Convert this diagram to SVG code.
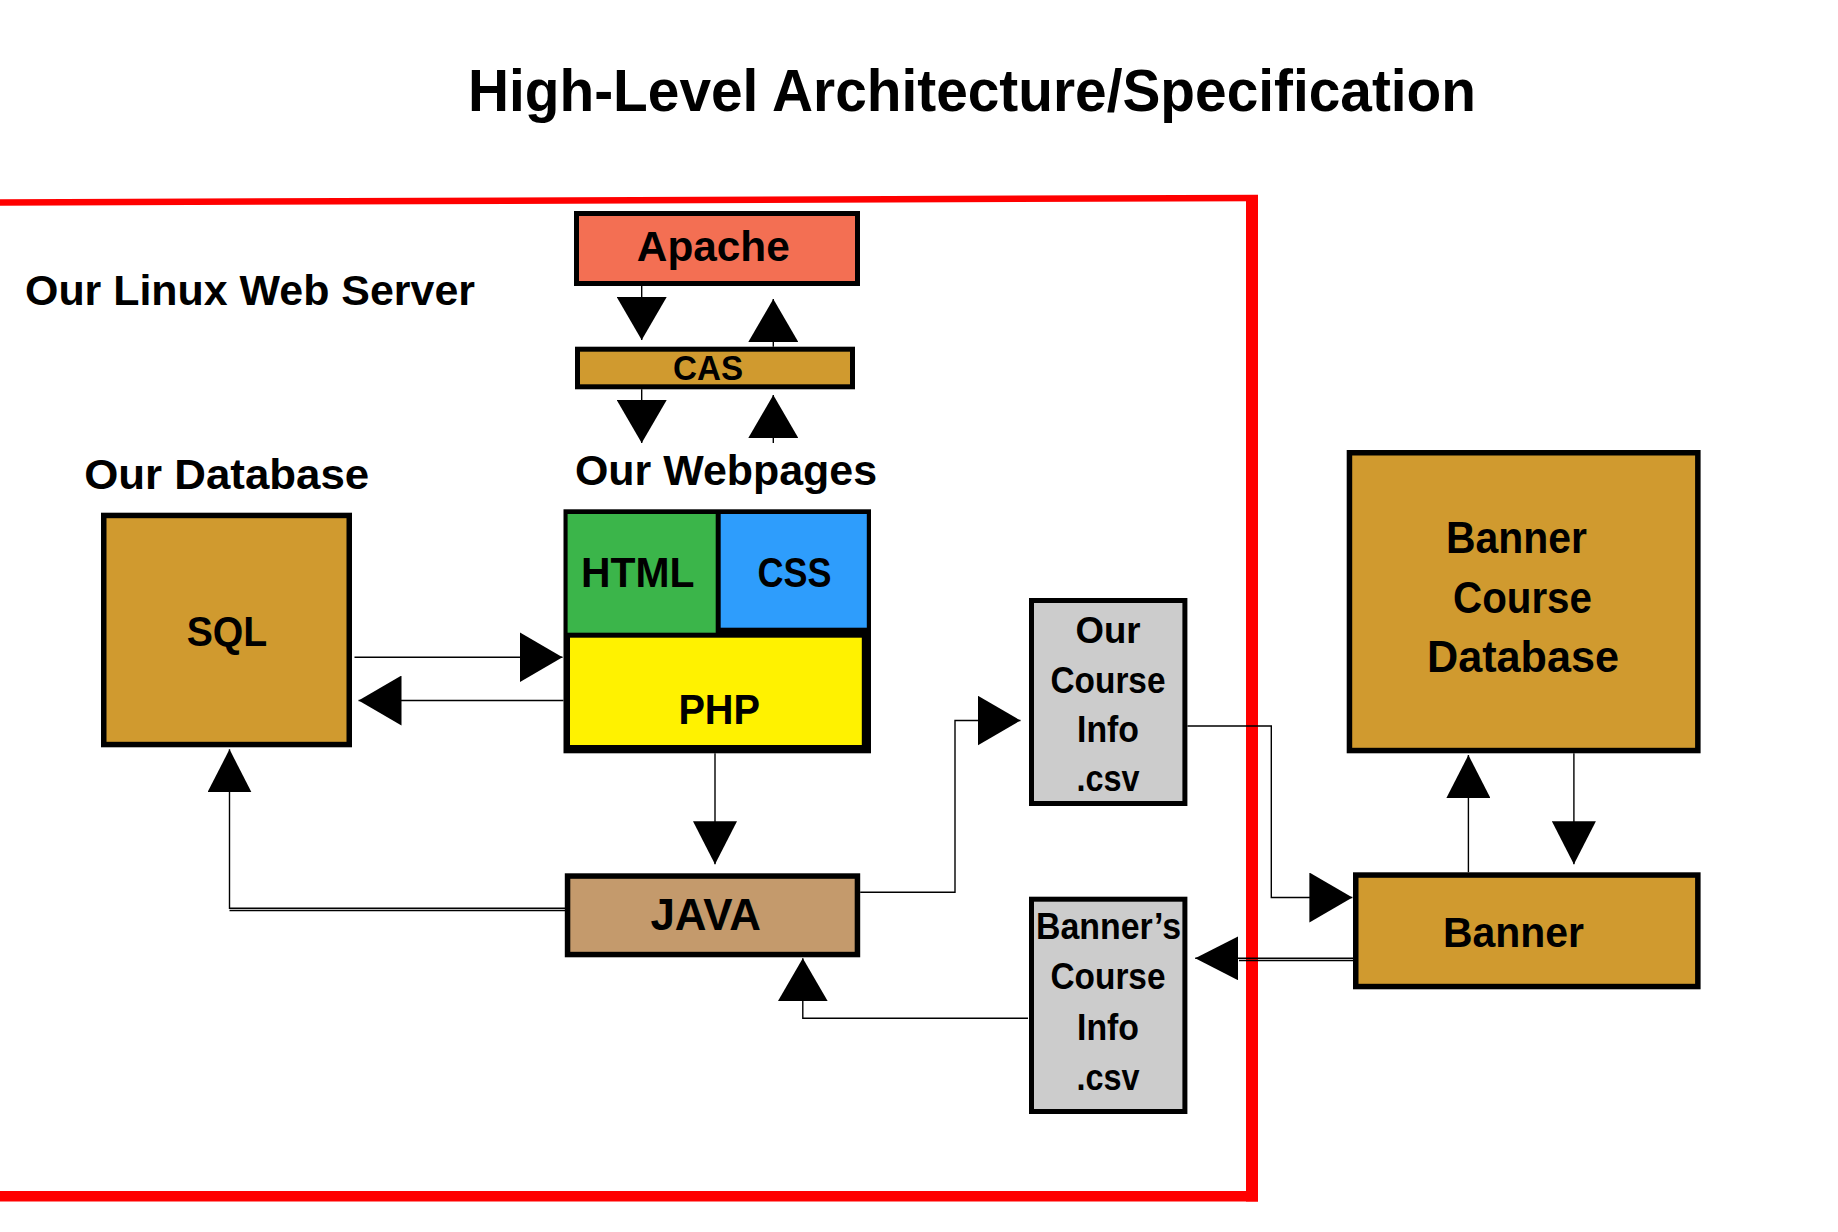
<svg xmlns="http://www.w3.org/2000/svg" width="1838" height="1232" viewBox="0 0 1838 1232">
<style>
  text { font-family: "Liberation Sans", Arial, sans-serif; font-weight: bold; fill: #000; }
  .c { text-anchor: middle; }
  .box { stroke: #000; stroke-width: 5.5; }
  .thin { stroke-width: 5; }
  .gold { fill: #D09A2F; }
  .gray { fill: #CCCCCC; }
  .conn { fill: none; stroke: #000; stroke-width: 1.4; }
  .red { stroke: #FF0000; fill: none; }
</style>
<defs>
  <marker id="ah" viewBox="0 0 43 50" refX="43" refY="25" markerWidth="43" markerHeight="50" markerUnits="userSpaceOnUse" orient="auto">
    <path d="M0,0 L43,25 L0,50 Z" fill="#000"/>
  </marker>
  <marker id="ahn" viewBox="0 0 43 44" refX="43" refY="22" markerWidth="43" markerHeight="44" markerUnits="userSpaceOnUse" orient="auto">
    <path d="M0,0 L43,22 L0,44 Z" fill="#000"/>
  </marker>
</defs>
<rect width="1838" height="1232" fill="#FFFFFF"/>

<g id="title">
  <text class="c" x="972" y="110.7" font-size="59" textLength="1008" lengthAdjust="spacingAndGlyphs">High-Level Architecture/Specification</text>
</g>

<g id="server-frame">
  <line class="red" x1="0" y1="202.5" x2="1258" y2="198" stroke-width="6.5"/>
  <line class="red" x1="1252" y1="196" x2="1252" y2="1201.5" stroke-width="12"/>
  <line class="red" x1="0" y1="1196.2" x2="1258" y2="1196.2" stroke-width="10.5"/>
  <text x="25" y="305" font-size="43" textLength="450" lengthAdjust="spacingAndGlyphs">Our Linux Web Server</text>
</g>

<g id="connectors">
  <path class="conn" d="M641.7,286 V340" marker-end="url(#ah)"/>
  <path class="conn" d="M773.3,346.7 V299" marker-end="url(#ah)"/>
  <path class="conn" d="M641.7,389.3 V443" marker-end="url(#ah)"/>
  <path class="conn" d="M773.3,443 V395" marker-end="url(#ah)"/>
  <path class="conn" d="M354.5,657.3 H562.5" marker-end="url(#ah)"/>
  <path class="conn" d="M563.5,700.5 H358.5" marker-end="url(#ah)"/>
  <path class="conn" d="M715,753.3 V864.3" marker-end="url(#ahn)"/>
  <path class="conn" d="M566,908.2 H229.5 V749.3" marker-end="url(#ahn)"/>
  <path class="conn" d="M566,910.5 H229.5"/>
  <path class="conn" d="M1028,1018.3 H802.8 V958.3" marker-end="url(#ah)"/>
  <path class="conn" d="M860.2,892.3 H955 V720.5 H1020.5" marker-end="url(#ah)"/>
  <path class="conn" d="M1187.4,726 H1271.3 V897.5 H1352.4" marker-end="url(#ah)"/>
  <path class="conn" d="M1353,958.3 H1195.2" marker-end="url(#ahn)"/>
  <path class="conn" d="M1353,960.5 H1239"/>
  <path class="conn" d="M1468.4,872.3 V755" marker-end="url(#ahn)"/>
  <path class="conn" d="M1573.9,753.3 V864.3" marker-end="url(#ahn)"/>
</g>

<g id="apache">
  <rect class="box thin" x="576.5" y="213.5" width="281" height="70" fill="#F36F53"/>
  <text class="c" x="713.3" y="260.5" font-size="43" textLength="153" lengthAdjust="spacingAndGlyphs">Apache</text>
</g>

<g id="cas">
  <rect class="box thin gold" x="577.5" y="349.2" width="275" height="37.6"/>
  <text class="c" x="708" y="379.5" font-size="35" textLength="70" lengthAdjust="spacingAndGlyphs">CAS</text>
</g>

<g id="our-database">
  <text x="84.2" y="488.5" font-size="43" textLength="285" lengthAdjust="spacingAndGlyphs">Our Database</text>
  <rect class="box gold" x="103.75" y="515.45" width="245.5" height="229.1"/>
  <text class="c" x="227" y="645.7" font-size="43" textLength="80.6" lengthAdjust="spacingAndGlyphs">SQL</text>
</g>

<g id="our-webpages">
  <text x="575" y="485" font-size="43" textLength="302" lengthAdjust="spacingAndGlyphs">Our Webpages</text>
  <rect x="563.5" y="509.3" width="307.5" height="244" fill="#000"/>
  <rect x="567.6" y="514" width="148.1" height="118.7" fill="#3BB54A"/>
  <rect x="720.7" y="514" width="146.1" height="113.7" fill="#2E9DFC"/>
  <rect x="570" y="637.7" width="291.8" height="107.3" fill="#FFF200"/>
  <text class="c" x="637.7" y="587.3" font-size="43" textLength="113.5" lengthAdjust="spacingAndGlyphs">HTML</text>
  <text class="c" x="794.5" y="587.3" font-size="43" textLength="74" lengthAdjust="spacingAndGlyphs">CSS</text>
  <text class="c" x="719.2" y="724" font-size="43" textLength="81.6" lengthAdjust="spacingAndGlyphs">PHP</text>
</g>

<g id="java">
  <rect class="box" x="567.55" y="876.05" width="289.9" height="78.5" fill="#C49A6C"/>
  <text class="c" x="705.7" y="930" font-size="44" textLength="110.6" lengthAdjust="spacingAndGlyphs">JAVA</text>
</g>

<g id="our-course-csv">
  <rect class="box thin gray" x="1031.5" y="600.5" width="153.4" height="203"/>
  <text class="c" x="1108" y="643" font-size="37" textLength="65" lengthAdjust="spacingAndGlyphs">Our</text>
  <text class="c" x="1108" y="693" font-size="37" textLength="115" lengthAdjust="spacingAndGlyphs">Course</text>
  <text class="c" x="1108" y="742" font-size="37" textLength="62" lengthAdjust="spacingAndGlyphs">Info</text>
  <text class="c" x="1108" y="791" font-size="37" textLength="63" lengthAdjust="spacingAndGlyphs">.csv</text>
</g>

<g id="banners-course-csv">
  <rect class="box thin gray" x="1031.5" y="899.2" width="153.4" height="212.3"/>
  <text class="c" x="1108.5" y="939" font-size="37" textLength="145" lengthAdjust="spacingAndGlyphs">Banner’s</text>
  <text class="c" x="1108" y="989" font-size="37" textLength="115" lengthAdjust="spacingAndGlyphs">Course</text>
  <text class="c" x="1108" y="1039.5" font-size="37" textLength="62" lengthAdjust="spacingAndGlyphs">Info</text>
  <text class="c" x="1108" y="1090" font-size="37" textLength="63" lengthAdjust="spacingAndGlyphs">.csv</text>
</g>

<g id="banner-course-database">
  <rect class="box gold" x="1349.45" y="452.75" width="348.4" height="297.8"/>
  <text class="c" x="1516.5" y="552.7" font-size="45" textLength="141" lengthAdjust="spacingAndGlyphs">Banner</text>
  <text class="c" x="1522.5" y="612.7" font-size="45" textLength="139" lengthAdjust="spacingAndGlyphs">Course</text>
  <text class="c" x="1523" y="672" font-size="45" textLength="192" lengthAdjust="spacingAndGlyphs">Database</text>
</g>

<g id="banner">
  <rect class="box gold" x="1355.75" y="875.05" width="342.1" height="111.5"/>
  <text class="c" x="1513.5" y="946.7" font-size="43" textLength="141" lengthAdjust="spacingAndGlyphs">Banner</text>
</g>
</svg>
